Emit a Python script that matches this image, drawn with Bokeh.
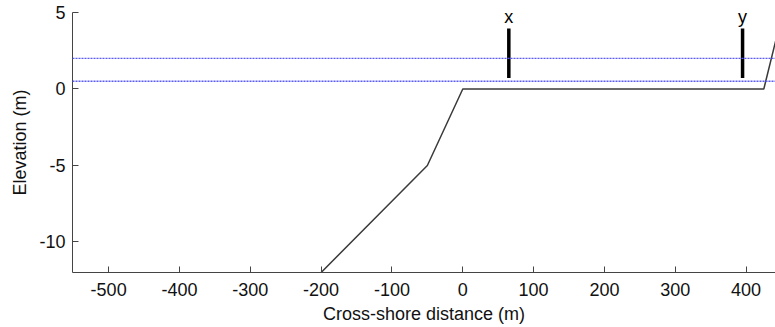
from bokeh.plotting import figure
from bokeh.models import Span, Range1d, FixedTicker, ColumnDataSource
from bokeh.embed import file_html
from bokeh.resources import INLINE
from bokeh.core.properties import value

# Profile data
profile_x = [-200, -50, 0, 425, 450]
profile_y = [-12, -5, 0, 0, 4.7]

# Water levels (dotted blue)
water_levels = [2.0, 0.5]

# Markers
marker_labels = ["x", "y"]
marker_x = [65, 395]
marker_y0 = [0.72, 0.72]
marker_y1 = [3.95, 3.95]
label_y = [4.05, 4.05]

x_ticks = [-500, -400, -300, -200, -100, 0, 100, 200, 300, 400]
y_ticks = [-10, -5, 0, 5]

FONT = "Liberation Sans"

p = figure(width=775, height=327, output_backend="svg", toolbar_location=None,
           x_range=Range1d(-551, 441.5), y_range=Range1d(-12, 5),
           min_border_left=72, min_border_right=0, min_border_top=12, min_border_bottom=55)
p.outline_line_color = None
p.xgrid.visible = False
p.ygrid.visible = False
p.background_fill_color = "white"

for lvl in water_levels:
    p.add_layout(Span(location=lvl, dimension="width", line_color="#5a5aff",
                      line_dash="2 1", line_width=1.4))

p.line(profile_x, profile_y, line_color="#3a3a3a", line_width=1.5)

src = ColumnDataSource(dict(x=marker_x, y0=marker_y0, y1=marker_y1, ly=label_y, t=marker_labels))
p.segment(x0="x", y0="y0", x1="x", y1="y1", source=src, line_color="black", line_width=3.5)
p.text(x="x", y="ly", text="t", source=src, text_align="center", text_baseline="bottom",
       text_font=value(FONT), text_font_size="18px", text_color="black")

for ax in (p.xaxis[0], p.yaxis[0]):
    ax.major_tick_in = 6
    ax.major_tick_out = 0
    ax.minor_tick_in = 0
    ax.minor_tick_out = 0
    ax.axis_line_color = "#444444"
    ax.major_tick_line_color = "#444444"
    ax.major_label_text_font = FONT
    ax.major_label_text_font_size = "18px"
    ax.major_label_text_color = "#111111"
    ax.axis_label_text_font = FONT
    ax.axis_label_text_font_size = "18px"
    ax.axis_label_text_font_style = "normal"
    ax.axis_label_text_color = "#111111"

p.xaxis.ticker = FixedTicker(ticks=x_ticks)
p.yaxis.ticker = FixedTicker(ticks=y_ticks)
p.xaxis.major_label_overrides = {t: str(t) for t in x_ticks}
p.yaxis.major_label_overrides = {t: str(t) for t in y_ticks}
p.xaxis.axis_label = "Cross-shore distance (m)"
p.yaxis.axis_label = "Elevation (m)"
p.xaxis.major_label_standoff = 10
p.xaxis.axis_label_standoff = 5
p.yaxis.major_label_standoff = 7
p.yaxis.axis_label_standoff = 6

open("out.html", "w").write(file_html(p, INLINE))
